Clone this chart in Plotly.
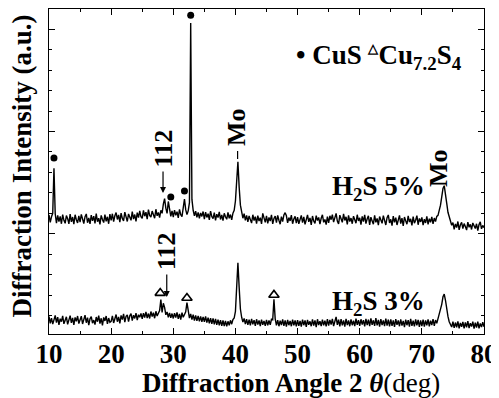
import plotly.graph_objects as go

# ---------------- data ----------------
ANGLE_START = 10.0   # deg (2 theta)
ANGLE_STEP = 0.2     # deg

# H2S 5 % pattern (upper trace), arbitrary units
h2s_5 = [
    592, 556, 583, 600, 820, 598, 552, 590, 560, 585, 549, 594, 566, 551, 589, 574, 548, 596, 558, 582, 547, 593, 569, 553, 588,
    557, 595, 566, 550, 584, 597, 554, 578, 548, 591, 563, 586, 551, 599, 559, 576, 546, 590, 570, 555, 594, 561, 583, 549, 596,
    566, 598, 559, 588, 604, 570, 592, 557, 601, 575, 563, 606, 580, 560, 597, 585, 566, 609, 572, 594, 561, 603, 579, 612, 584,
    575, 614, 586, 606, 572, 618, 590, 581, 611, 595, 576, 620, 588, 604, 579, 615, 600, 645, 672, 625, 600, 658, 614, 585, 612,
    581, 616, 590, 608, 578, 619, 593, 584, 628, 670, 618, 594, 612, 652, 1530, 668, 615, 588, 611, 580, 605, 576, 602, 585, 609,
    572, 606, 580, 598, 568, 611, 584, 574, 603, 566, 596, 579, 607, 570, 592, 564, 600, 583, 571, 605, 576, 594, 568, 601, 615,
    660, 765, 852, 728, 640, 608, 576, 598, 566, 590, 558, 587, 571, 552, 593, 565, 584, 550, 589, 562, 579, 548, 600, 570, 556,
    588, 551, 580, 562, 593, 548, 575, 586, 554, 590, 566, 547, 584, 560, 592, 603, 588, 553, 579, 563, 591, 549, 572, 585, 552,
    581, 549, 574, 590, 555, 583, 546, 571, 592, 558, 578, 544, 587, 562, 551, 589, 565, 580, 547, 576, 593, 556, 570, 545, 584,
    553, 588, 569, 594, 557, 580, 600, 562, 548, 591, 571, 556, 597, 565, 583, 546, 590, 560, 577, 549, 586, 568, 552, 593, 563,
    578, 545, 585, 559, 592, 550, 573, 588, 544, 581, 562, 547, 590, 556, 575, 542, 584, 565, 551, 589, 560, 543, 579, 592, 553,
    571, 540, 586, 556, 579, 543, 568, 590, 550, 577, 538, 582, 563, 547, 588, 557, 573, 541, 584, 552, 566, 589, 544, 575, 558,
    580, 542, 571, 553, 585, 546, 574, 556, 583, 548, 577, 560, 585, 590, 612, 640, 680, 722, 735, 700, 650, 605, 585, 558, 542,
    555, 522, 548, 530, 560, 519, 544, 556, 525, 550, 535, 518, 557, 532, 546, 521, 553, 538, 526, 549, 516, 545, 558, 524, 541,
    530,
]

# H2S 3 % pattern (lower trace), arbitrary units
h2s_3 = [
    96, 62, 88, 58, 79, 101, 66, 92, 55, 85, 70, 99, 60, 83, 94, 57, 76, 100, 64, 89, 54, 91, 72, 98, 61,
    86, 97, 59, 80, 102, 65, 90, 53, 84, 95, 63, 78, 56, 93, 70, 100, 61, 87, 52, 91, 74, 98, 60, 88, 67,
    72, 99, 64, 90, 105, 70, 94, 62, 101, 80, 108, 68, 96, 103, 71, 99, 110, 75, 102, 86, 112, 78, 104, 92, 111,
    84, 112, 90, 118, 88, 110, 86, 120, 95, 114, 87, 121, 98, 115, 125, 178, 115, 160, 140, 104, 118, 92, 113, 89, 110,
    86, 112, 90, 116, 84, 108, 80, 114, 92, 110, 118, 164, 112, 88, 108, 80, 104, 76, 101, 74, 99, 72, 96, 70, 94,
    70, 96, 66, 90, 62, 88, 60, 86, 57, 84, 55, 80, 52, 78, 50, 76, 49, 74, 47, 72, 52, 77, 58, 80, 88,
    120, 252, 358, 238, 132, 92, 68, 86, 58, 82, 55, 80, 52, 84, 57, 78, 50, 82, 56, 76, 49, 80, 55, 74, 50,
    79, 52, 76, 55, 82, 80, 180, 84, 52, 78, 48, 75, 54, 81, 50, 77, 46, 79, 53, 74, 48, 80, 52, 76, 47,
    78, 50, 74, 46, 80, 53, 76, 45, 79, 55, 72, 48, 81, 51, 77, 44, 82, 54, 73, 49, 80, 52, 75, 47, 83,
    51, 79, 56, 84, 49, 78, 94, 55, 80, 47, 83, 52, 77, 46, 84, 54, 76, 48, 81, 53, 75, 49, 85, 55, 78,
    50, 82, 56, 78, 47, 84, 53, 80, 48, 86, 55, 77, 50, 88, 52, 79, 46, 83, 54, 76, 49, 85, 51, 80, 47,
    81, 50, 77, 45, 83, 55, 76, 48, 82, 51, 74, 44, 80, 53, 78, 46, 84, 50, 75, 47, 81, 52, 79, 45, 76,
    49, 80, 46, 77, 52, 82, 47, 75, 54, 83, 50, 78, 62, 85, 95, 120, 155, 192, 205, 175, 128, 96, 70, 58, 44,
    70, 40, 66, 43, 72, 38, 64, 45, 69, 37, 67, 42, 73, 39, 63, 46, 70, 36, 65, 41, 71, 38, 62, 44, 68,
    45,
]

angles = [round(ANGLE_START + i * ANGLE_STEP, 1) for i in range(len(h2s_5))]

# phase markers
cus_x = [10.8, 29.6, 31.8, 32.8]
cus_y = [870, 680, 709, 1569]
cu72_x = [27.9, 32.2, 46.2]
cu72_y = [210, 186, 201]

x_ticks = [10, 20, 30, 40, 50, 60, 70, 80]
y_major = [500, 1000, 1500]

FONT = "Liberation Serif, Times New Roman, serif"
FS = 27

fig = go.Figure()
for ys in (h2s_5, h2s_3):
    fig.add_trace(go.Scatter(x=angles, y=ys, mode="lines",
                             line=dict(color="black", width=1.4),
                             showlegend=False, hoverinfo="skip"))
fig.add_trace(go.Scatter(x=cus_x, y=cus_y, mode="markers",
                         marker=dict(symbol="circle", size=7, color="black"),
                         showlegend=False))
fig.add_trace(go.Scatter(x=cu72_x, y=cu72_y, mode="markers",
                         marker=dict(symbol="triangle-up-open", size=9, color="black",
                                     line=dict(width=1.6, color="black")),
                         showlegend=False))

ann = []
def txt(x, y, t, angle=0, xanchor="center", size=FS, ref="", bold=True):
    ann.append(dict(x=x, y=y, xref="x" if not ref else ref, yref="y" if not ref else ref,
                    text=t, showarrow=False,
                    textangle=angle, xanchor=xanchor, yanchor="middle",
                    font=dict(family=FONT, size=size, color="black",
                              weight="bold" if bold else "normal")))

def arrow(x, y0, y1, head=2):
    ann.append(dict(x=x, y=y1, ax=x, ay=y0, xref="x", yref="y", axref="x", ayref="y",
                    text="", showarrow=True, arrowhead=head, arrowsize=1,
                    arrowwidth=1.2, arrowcolor="black", standoff=0, startstandoff=0))

txt(28.4, 919, "112", angle=-90, size=26)
arrow(28.35, 812, 699)
txt(29.0, 416, "112", angle=-90, size=26)
arrow(28.95, 308, 191)
txt(40.2, 1020, "Mo", angle=-90, size=26)
arrow(40.35, 912, 866, head=0)
txt(72.7, 820, "Mo", angle=-90, size=26)
arrow(73.5, 745, 738, head=0)
txt(63.0, 725, "H<sub>2</sub>S 5%")
txt(63.0, 160, "H<sub>2</sub>S 3%")
txt(49.4, 1364,
    "• CuS <sup><span style='font-size:13px'>△</span></sup>Cu<sub>7.2</sub>S<sub>4</sub>",
    xanchor="left")

# axis titles
txt(0.556, -0.15, "<b>Diffraction Angle 2 </b><b><i>θ</i></b>(deg)", ref="paper", bold=False)
txt(-0.063, 0.517, "<b>Diffraction Intensity (a.u.)</b>", angle=-90, ref="paper", size=27, bold=False)

fig.update_layout(annotations=ann)

axis_common = dict(showline=True, linecolor="black", linewidth=1.2, mirror="allticks",
                   ticks="inside", tickcolor="black", tickwidth=1, showgrid=False,
                   zeroline=False, automargin=False)
fig.update_xaxes(range=[10, 80], tickvals=x_ticks, ticklen=6, ticklabelstandoff=-5,
                 ticklabeloverflow="allow",
                 minor=dict(dtick=5, tick0=0, ticklen=3, ticks="inside", tickcolor="black"),
                 tickfont=dict(family=FONT, size=FS, color="black", weight="bold"),
                 **axis_common)
fig.update_yaxes(range=[10, 1599], tickvals=y_major, ticklen=6, showticklabels=False,
                 minor=dict(dtick=100, tick0=0, ticklen=3, ticks="inside", tickcolor="black"),
                 **axis_common)

# the page body keeps its default 8 px margin, so the figure is sized to fit the window
fig.update_layout(width=491, height=390, margin=dict(l=41, r=15, t=1, b=64),
                  plot_bgcolor="white", paper_bgcolor="white")

fig.write_html("out.html")
